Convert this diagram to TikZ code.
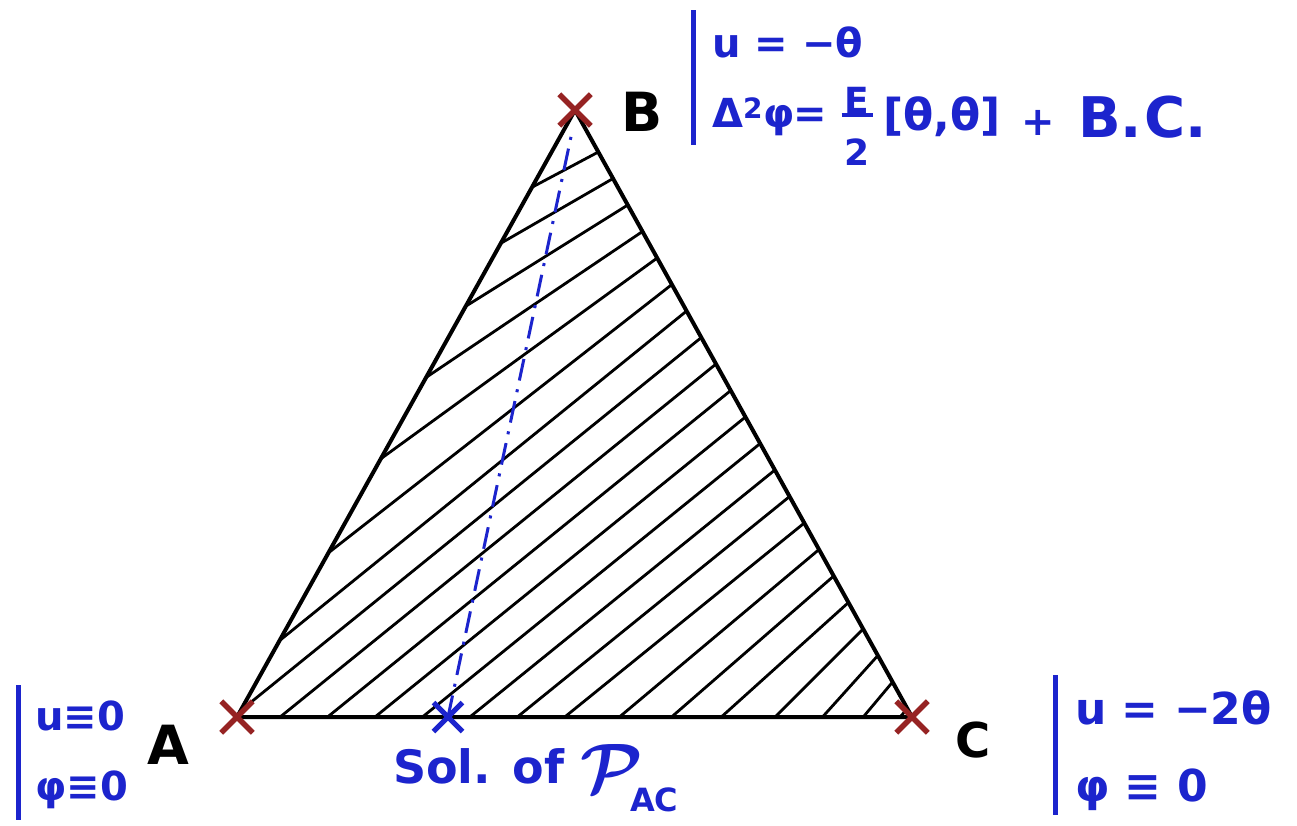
\documentclass[tikz,border=0pt]{standalone}
\usepackage{fontspec}
\usepackage{graphicx}
\setmainfont{DejaVu Sans}
\usetikzlibrary{shapes.misc}
\definecolor{ink}{RGB}{28,36,205}
\definecolor{xred}{RGB}{150,35,35}
\begin{document}
\begin{tikzpicture}[x=1pt,y=-1pt,
  xmark/.style={cross out, draw=xred, line width=5.5pt, minimum size=26pt, inner sep=0pt},
  bxmark/.style={cross out, draw=ink, line width=5pt, minimum size=24pt, inner sep=0pt},
  edgeline/.style={line width=4pt, black, line join=round},
  hatch/.style={line width=2.8pt, black, line cap=round},
  bar/.style={draw=ink, line width=5pt},
  lbl/.style={font=\fontsize{54}{60}\selectfont\bfseries, inner sep=0pt},
  cond/.style={text=ink, font=\fontsize{40}{48}\selectfont\bfseries, anchor=west, inner sep=0pt},
  dashdot/.style={draw=ink, line width=3pt, dash pattern=on 22pt off 9pt on 3pt off 9pt}]
\useasboundingbox (0,0) rectangle (1297,825);
\fill[white] (0,0) rectangle (1297,825);
% vertices
\coordinate (A) at (237,717);
\coordinate (B) at (575,110);
\coordinate (C) at (912,717);
\coordinate (S) at (448,717);
\coordinate (T) at (572,132);
% hatching
\begin{scope}
\clip (A) -- (B) -- (C) -- cycle;
\foreach \i/\a in {0/28,1/30,2/32,3/34,4/36,5/38,6/39,7/39,8/39,9/39,10/39,11/39,12/39,13/39,14/39,15/40,16/41,17/42,18/45,19/48,20/50,21/50}{
  \pgfmathsetmacro{\yr}{152+26.5*\i}
  \pgfmathsetmacro{\xr}{575+(\yr-110)*0.5552}
  \draw[hatch] ({\xr+30*cos(\a)},{\yr-30*sin(\a)}) -- ++({-1000*cos(\a)},{1000*sin(\a)});
}
\end{scope}
% edges
\draw[edgeline] (A) -- (B) -- (C) -- cycle;
% dash-dot line
\draw[dashdot] (S) -- (T);
% crosses
\node[xmark] (xA) at (A) {};
\node[xmark] (xB) at (B) {};
\node[xmark] (xC) at (C) {};
\node[bxmark] (xS) at (S) {};
% vertex labels
\node[lbl] (Al) at (168,745) {A};
\node[lbl] (Bl) at (642,112) {B};
\node[lbl, font=\fontsize{48}{54}\selectfont\bfseries] (Cl) at (973,740) {C};
% B conditions
\draw[bar] (693,10) -- (693,145);
\node[cond] (bu) at (712,42) {u = −θ};
\node[cond] (bp) at (712,117) {Δ\textsuperscript{2}φ\kern-1pt=};
\node[cond, anchor=center, font=\fontsize{36}{40}\selectfont\bfseries] (fe) at (857,100) {E};
\draw[ink, line width=4pt] ([xshift=-3pt,yshift=-2pt]fe.south west) -- ([xshift=3pt,yshift=-2pt]fe.south east);
\node[cond, anchor=center, font=\fontsize{36}{40}\selectfont\bfseries] (f2) at (857,152) {2};
\node[cond, font=\fontsize{44}{48}\selectfont\bfseries] (bt) at (883,117) {[θ,θ]};
\node[cond, anchor=center] (bplus) at (1038,123) {+};
\node[cond, font=\fontsize{56}{60}\selectfont\bfseries] (bc) at (1078,117) {B.\kern2pt C.};
% A conditions
\draw[bar] (18,685) -- (18,820);
\node[cond] (au) at (35,716) {u≡0};
\node[cond] (ap) at (35,790) {φ≡0};
% C conditions
\draw[bar] (1055,675) -- (1055,815);
\node[cond, font=\fontsize{44}{48}\selectfont\bfseries] (cu) at (1075,708) {u = −2θ};
\node[cond, font=\fontsize{44}{48}\selectfont\bfseries] (cp) at (1075,790) {φ ≡ 0};
% solution label
\node[cond, font=\fontsize{46}{50}\selectfont\bfseries] (sol) at (393,766) {Sol. of};
\node[text=ink, inner sep=0pt] (P) at (612,768) {\scalebox{7}{\boldmath$\mathcal{P}$}};
\node[cond, font=\fontsize{32}{36}\selectfont\bfseries] (ac) at (630,800) {AC};
\end{tikzpicture}
\end{document}
